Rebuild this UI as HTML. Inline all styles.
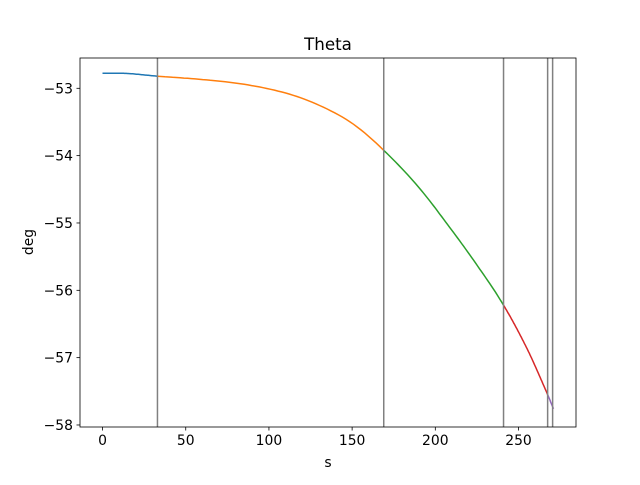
<!DOCTYPE html>
<html><head><meta charset="utf-8"><style>
body{margin:0;background:#fff;}
svg text{font-family:"DejaVu Sans","Liberation Sans",sans-serif;fill:#000;}
</style></head><body>
<svg id="chart" width="640" height="480" viewBox="0 0 640 480">
<rect width="640" height="480" fill="#fff"/>
<text x="328" y="50" font-size="16.7" text-anchor="middle">Theta</text>
<g id="plot"></g>
<rect x="80" y="58" width="496" height="369" fill="none" stroke="#000" stroke-width="0.8"/>
<text x="328" y="467" font-size="13.9" text-anchor="middle">s</text>
<text x="33" y="242" font-size="13.9" text-anchor="middle" transform="rotate(-90 33 242)">deg</text>
</svg>
<script>
const segBounds = [33, 169, 241, 267.5, 270.5];
const segColors = ['#1f77b4','#ff7f0e','#2ca02c','#d62728','#9467bd'];
const sVals = [0, 15, 33, 60, 85, 110, 130, 150, 169, 190, 210, 226, 241, 255, 267, 271];
const thetaVals = [-52.775, -52.78, -52.82, -52.87, -52.94, -53.07, -53.25, -53.52, -53.92, -54.47, -55.11, -55.66, -56.22, -56.86, -57.52, -57.76];
const xTicks = [0, 50, 100, 150, 200, 250];
const yTicks = [-53, -54, -55, -56, -57, -58];
const xMin=-13.55, xMax=284.55, yMin=-58.03, yMax=-52.55;
const L=80,R=576,T=58,B=427;
const X=v=>L+(v-xMin)/(xMax-xMin)*(R-L);
const Y=v=>B-(v-yMin)/(yMax-yMin)*(B-T);
const NS='http://www.w3.org/2000/svg';
const g=document.getElementById('plot');
function mk(t,a){const e=document.createElementNS(NS,t);for(const k in a)e.setAttribute(k,a[k]);g.appendChild(e);return e;}
const n=sVals.length;
const slopes=sVals.map((s,i)=>{
  if(i===0)return (thetaVals[1]-thetaVals[0])/(sVals[1]-sVals[0]);
  if(i===n-1)return (thetaVals[n-1]-thetaVals[n-2])/(sVals[n-1]-sVals[n-2]);
  return (thetaVals[i+1]-thetaVals[i-1])/(sVals[i+1]-sVals[i-1]);
});
function interp(s){
  for(let i=0;i<n-1;i++){
    if(s>=sVals[i]&&s<=sVals[i+1]){
      const h=sVals[i+1]-sVals[i],t=(s-sVals[i])/h;
      const h00=2*t*t*t-3*t*t+1,h10=t*t*t-2*t*t+t,h01=-2*t*t*t+3*t*t,h11=t*t*t-t*t;
      return h00*thetaVals[i]+h10*h*slopes[i]+h01*thetaVals[i+1]+h11*h*slopes[i+1];
    }
  }
  return thetaVals[n-1];
}
const starts=[0].concat(segBounds.slice(0,4));
const ends=segBounds.slice(0,4).concat([sVals[n-1]]);
for(let k=0;k<5;k++){
  const pts=[];
  const steps=60;
  for(let j=0;j<=steps;j++){const s=starts[k]+(ends[k]-starts[k])*j/steps;pts.push([s,interp(s)]);}
  const p=mk('polyline',{points:pts.map(p=>X(p[0]).toFixed(1)+','+Y(p[1]).toFixed(1)).join(' '),fill:'none',stroke:segColors[k],'stroke-width':1.5});
  
  
}
segBounds.forEach((b,i)=>{
  const l=mk('line',{x1:X(b),x2:X(b),y1:T,y2:B,stroke:'#808080','stroke-width':1.5});
  
  
});
xTicks.forEach(v=>{
  const l=mk('line',{x1:X(v),x2:X(v),y1:B,y2:B+3.5,stroke:'#000','stroke-width':0.8});
  
  
  const t=mk('text',{x:X(v),y:B+18,'font-size':13.9,'text-anchor':'middle'});t.textContent=v;
  
  
});
yTicks.forEach(v=>{
  const l=mk('line',{x1:L-3.5,x2:L,y1:Y(v),y2:Y(v),stroke:'#000','stroke-width':0.8});
  
  
  const t=mk('text',{x:L-7,y:Y(v)+5,'font-size':13.9,'text-anchor':'end'});t.textContent='\u2212'+Math.abs(v);
  
  
});
</script>
</body></html>
